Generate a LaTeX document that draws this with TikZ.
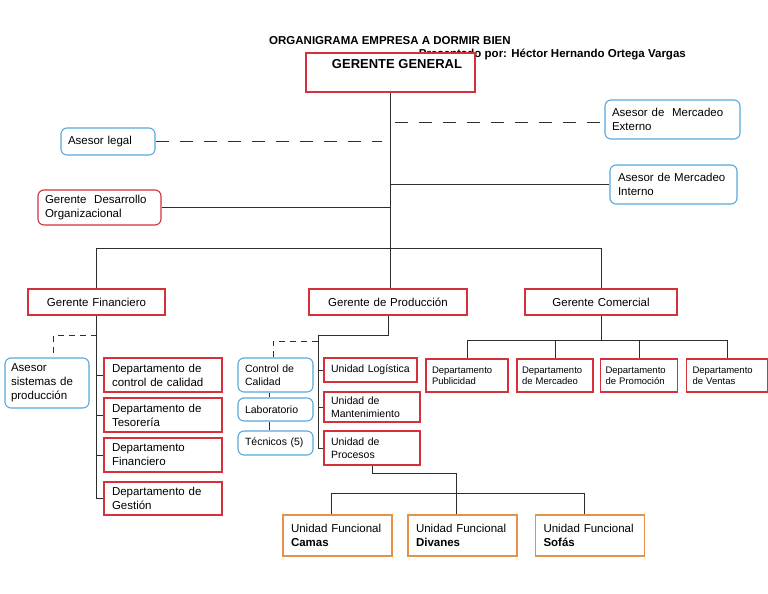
\documentclass[tikz,border=0pt]{standalone}
\usepackage{fontspec}
\setmainfont{Liberation Sans}
\definecolor{rc}{RGB}{214,48,58}
\definecolor{bc}{RGB}{88,168,220}
\definecolor{oc}{RGB}{228,146,70}
\definecolor{lc}{RGB}{45,45,45}
\begin{document}
\begin{tikzpicture}[x=1pt,y=-1pt,
  every node/.style={inner sep=0pt},
  bx/.style n args={3}{draw, fill=white, line width=1.1pt, minimum width=#1pt, minimum height=#2pt, text width=#3pt, inner xsep=0pt, align=left},
  red/.style={draw=rc},
  blu/.style={draw=bc, rounded corners=6pt},
  org/.style={draw=oc},
  fA/.style={font=\fontsize{11.5}{14}\selectfont},
  fB/.style={font=\fontsize{10.5}{13}\selectfont},
  fC/.style={font=\fontsize{9.5}{11}\selectfont},
  ln/.style={draw=lc, line width=0.9pt},
  dsh/.style={ln, dash pattern=on 13pt off 11pt},
  dshs/.style={ln, dash pattern=on 6pt off 5pt}]
\fill[white] (0,0) rectangle (768,594);
\useasboundingbox (0,0) rectangle (768,594);

% title
\node[font=\bfseries\fontsize{11.5}{13}\selectfont, anchor=west] (title) at (269,41) {ORGANIGRAMA EMPRESA A DORMIR BIEN};
\node[font=\bfseries\fontsize{11.5}{13}\selectfont, anchor=east] (sub) at (686,55) {Presentado por: Héctor Hernando Ortega Vargas};

% top level
\node[draw=rc, fill=white, line width=2pt, minimum width=169pt, minimum height=39pt] (gg) at (390.5,72.5) {};
\node[font=\bfseries\fontsize{13}{15}\selectfont] (ggt) at (397,64.5) {GERENTE GENERAL};

\node[bx={94}{27}{80}, blu, fA] (legal) at (108,141.5) {Asesor legal};
\node[bx={135}{39}{121}, blu, fA] (ext) at (672.5,119.5) {Asesor de~ Mercadeo\\Externo};
\node[bx={127}{39}{111}, blu, fA] (int) at (673.5,184.5) {Asesor de Mercadeo\\Interno};
\node[bx={123}{35}{109}, red, rounded corners=6pt, fA] (gdo) at (99.5,207.5) {Gerente~ Desarrollo\\Organizacional};

% gerentes
\node[bx={137}{26}{133}, red, fA, align=center] (gf) at (96.5,302) {Gerente Financiero};
\node[bx={158}{26}{154}, red, fA, align=center] (gp) at (388,302) {Gerente de Producción};
\node[bx={152}{26}{148}, red, fA, align=center] (gc) at (601,302) {Gerente Comercial};

% financiero
\node[bx={84}{50}{72}, blu, fA] (as) at (47,383) {Asesor\\sistemas de\\producción};
\node[bx={118}{34}{102}, red, fA] (d1) at (163,375) {Departamento de\\control de calidad};
\node[bx={118}{34}{102}, red, fA] (d2) at (163,415) {Departamento de\\Tesorería};
\node[bx={118}{34}{102}, red, fA] (d3) at (163,455) {Departamento\\Financiero};
\node[bx={118}{33}{102}, red, fA] (d4) at (163,498.5) {Departamento de\\Gestión};

% produccion
\node[bx={75}{34}{61}, blu, fB] (cc) at (275.5,375) {Control de\\Calidad};
\node[bx={75}{23}{61}, blu, fB] (lab) at (275.5,409.5) {Laboratorio};
\node[bx={75}{24}{61}, blu, fB] (tec) at (275.5,443) {Técnicos (5)};
\node[bx={93}{24}{79}, red, fB] (ulo) at (370.5,370) {Unidad Logística};
\node[bx={96}{30}{82}, red, fB] (uma) at (372,407) {Unidad de\\Mantenimiento};
\node[bx={96}{34}{82}, red, fB] (upr) at (372,448) {Unidad de\\Procesos};

\node[bx={109}{41}{93}, org, fA] (cam) at (337.5,535.5) {Unidad Funcional\\\textbf{Camas}};
\node[bx={109}{41}{93}, org, fA] (div) at (462.5,535.5) {Unidad Funcional\\\textbf{Divanes}};
\node[bx={109}{41}{93}, org, fA] (sof) at (590,535.5) {Unidad Funcional\\\textbf{Sofás}};

% comercial
\node[bx={82}{33}{70}, red, fC] (pub) at (467,375.5) {Departamento\\Publicidad};
\node[bx={76}{33}{66}, red, fC] (mer) at (555,375.5) {Departamento\\de Mercadeo};
\node[bx={77}{33}{67}, red, fC] (pro) at (639,375.5) {Departamento\\de Promoción};
\node[bx={81}{33}{69}, red, fC] (ven) at (727,375.5) {Departamento\\de Ventas};

% connectors top
\coordinate (busy) at (0,248);
\coordinate (lg) at (382,141.5);
\coordinate (ex) at (395,122);
\coordinate (iy) at (0,184.5);
\draw[ln] (gg.south) -- (gg.south |- busy);
\draw[dsh] (legal.east) -- (lg);
\draw[dsh] (ex) -- (ex -| ext.west);
\draw[ln] (gg.south |- iy) -- (int.west);
\draw[ln] (gdo.east) -- (gdo.east -| gg.south);
\draw[ln] (gf.north |- busy) -- (gc.north |- busy);
\draw[ln] (gf.north |- busy) -- (gf.north);
\draw[ln] (gg.south |- busy) -- (gg.south |- gp.north);
\draw[ln] (gc.north |- busy) -- (gc.north);

% financiero connectors
\coordinate (k1) at (53,335);
\draw[ln] (gf.south) -- (gf.south |- d4.west);
\foreach \n in {d1,d2,d3,d4} \draw[ln] (gf.south |- \n.west) -- (\n.west);
\draw[dshs] (k1 -| gf.south) -- (k1) -- (k1 |- as.north);

% produccion connectors
\coordinate (p1) at (318,335);
\coordinate (p2) at (273,341);
\draw[ln] (gp.south) |- (p1) -- (p1 |- upr.west);
\foreach \n in {ulo,uma,upr} \draw[ln] (p1 |- \n.west) -- (\n.west);
\draw[dshs] (p2 -| p1) -- (p2) -- (p2 |- cc.north);
\coordinate (c1) at (269,0);
\draw[ln] (c1 |- cc.south) -- (c1 |- lab.north);
\draw[ln] (c1 |- lab.south) -- (c1 |- tec.north);

\coordinate (um) at (0,473);
\coordinate (ub) at (0,493);
\coordinate (camd) at ([xshift=-6pt]cam.north);
\coordinate (divd) at ([xshift=-6pt]div.north);
\coordinate (sofd) at ([xshift=-6pt]sof.north);
\draw[ln] (upr.south) -- (upr.south |- um) -| (divd);
\draw[ln] (camd) -- (camd |- ub) -- (sofd |- ub) -- (sofd);

% comercial connectors
\coordinate (cb) at (0,340);
\draw[ln] (gc.south) -- (gc.south |- cb);
\draw[ln] (pub.north |- cb) -- (ven.north |- cb);
\foreach \n in {pub,mer,pro,ven} \draw[ln] (\n.north |- cb) -- (\n.north);
\end{tikzpicture}
\end{document}
